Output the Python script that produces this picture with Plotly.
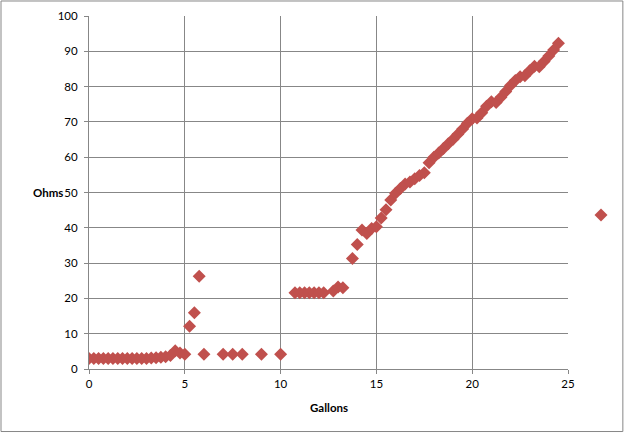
import plotly.graph_objs as go

# gallons poured vs. measured resistance
gallons = [0, 0.25, 0.5, 0.75, 1.0, 1.25, 1.5, 1.75, 2.0, 2.25, 2.5, 2.75, 3.0, 3.25, 3.5, 3.75, 4.0,
           4.25, 4.5, 4.75, 5.0, 5.25, 5.5, 5.75, 6.0, 7.0, 7.5, 8.0, 9.0, 10.0,
           10.75, 11.0, 11.25, 11.5, 11.75, 12.0, 12.25, 12.75, 13.0, 13.25,
           13.75, 14.0, 14.25, 14.5, 14.75, 15.0, 15.25, 15.5, 15.75, 16.0, 16.25, 16.5, 16.75, 17.0,
           17.25, 17.5, 17.75, 18.0, 18.25, 18.5, 18.75, 19.0, 19.25, 19.5, 19.75, 20.0, 20.25,
           20.5, 20.75, 21.0, 21.25, 21.5, 21.75, 22.0, 22.25, 22.5, 22.75, 23.0, 23.25, 23.5,
           23.75, 24.0, 24.25, 24.5]
ohms = [3.0, 3.0, 3.0, 3.0, 3.0, 3.0, 3.0, 3.0, 3.0, 3.0, 3.0, 3.0, 3.0, 3.1, 3.2, 3.3, 3.5,
        3.8, 5.2, 4.5, 4.2, 12.1, 15.9, 26.3, 4.2, 4.2, 4.2, 4.2, 4.2, 4.2,
        21.6, 21.6, 21.6, 21.6, 21.6, 21.6, 21.6, 22.1, 23.2, 23.0,
        31.3, 35.3, 39.4, 38.4, 39.8, 40.3, 42.8, 45.1, 47.9, 49.8, 51.1, 52.4, 53.0, 53.9,
        54.8, 55.6, 58.4, 60.0, 61.2, 62.5, 63.8, 65.1, 66.5, 68.0, 69.6, 70.9, 71.1,
        72.6, 74.4, 75.7, 75.5, 77.0, 78.6, 80.3, 81.7, 82.8, 83.1, 84.5, 85.8, 85.6,
        87.1, 88.7, 90.4, 92.3]

RED = '#C0504D'
GRID = '#878787'
FONT = 'Lato'

fig = go.Figure()
fig.add_trace(go.Scatter(x=gallons, y=ohms, mode='markers', name='',
                         marker=dict(symbol='diamond', size=10, color=RED),
                         showlegend=True))

axis_common = dict(showgrid=True, gridcolor=GRID, gridwidth=1,
                   showline=True, linecolor=GRID, linewidth=1,
                   ticks='outside', ticklen=4, tickcolor=GRID,
                   zeroline=False, automargin=False,
                   tickfont=dict(family=FONT, size=11.5, color='#000000'))

fig.update_xaxes(range=[0, 25], dtick=5, **axis_common)
fig.update_yaxes(range=[0, 100], dtick=10, ticklabelstandoff=4, **axis_common)

# axis titles as plain horizontal labels, like the original
fig.add_annotation(text='<b>Ohms</b>', xref='paper', yref='paper', x=-0.085, y=0.499,
                   xanchor='center', yanchor='middle',
                   showarrow=False, font=dict(family=FONT, size=11.5, color='#000000'))
fig.add_annotation(text='<b>Gallons</b>', xref='paper', yref='paper', x=0.5, y=-0.11,
                   xanchor='center', yanchor='middle',
                   showarrow=False, font=dict(family=FONT, size=11.5, color='#000000'))

# chart area border
fig.add_shape(type='rect', xref='paper', yref='paper',
              x0=-0.1837, x1=1.1145, y0=-0.1771, y1=1.0425,
              line=dict(color=GRID, width=1), layer='below')

fig.update_layout(width=625, height=433,
                  margin=dict(l=89, r=57, t=16, b=64, autoexpand=False),
                  paper_bgcolor='white', plot_bgcolor='white',
                  showlegend=True,
                  legend=dict(xref='container', yref='container',
                              x=0.9296, y=0.5035, xanchor='left', yanchor='middle',
                              bgcolor='rgba(0,0,0,0)', font=dict(family=FONT, size=11)))

fig.write_html("out.html", config={'displayModeBar': False},
               post_script="document.body.style.margin='0';")
